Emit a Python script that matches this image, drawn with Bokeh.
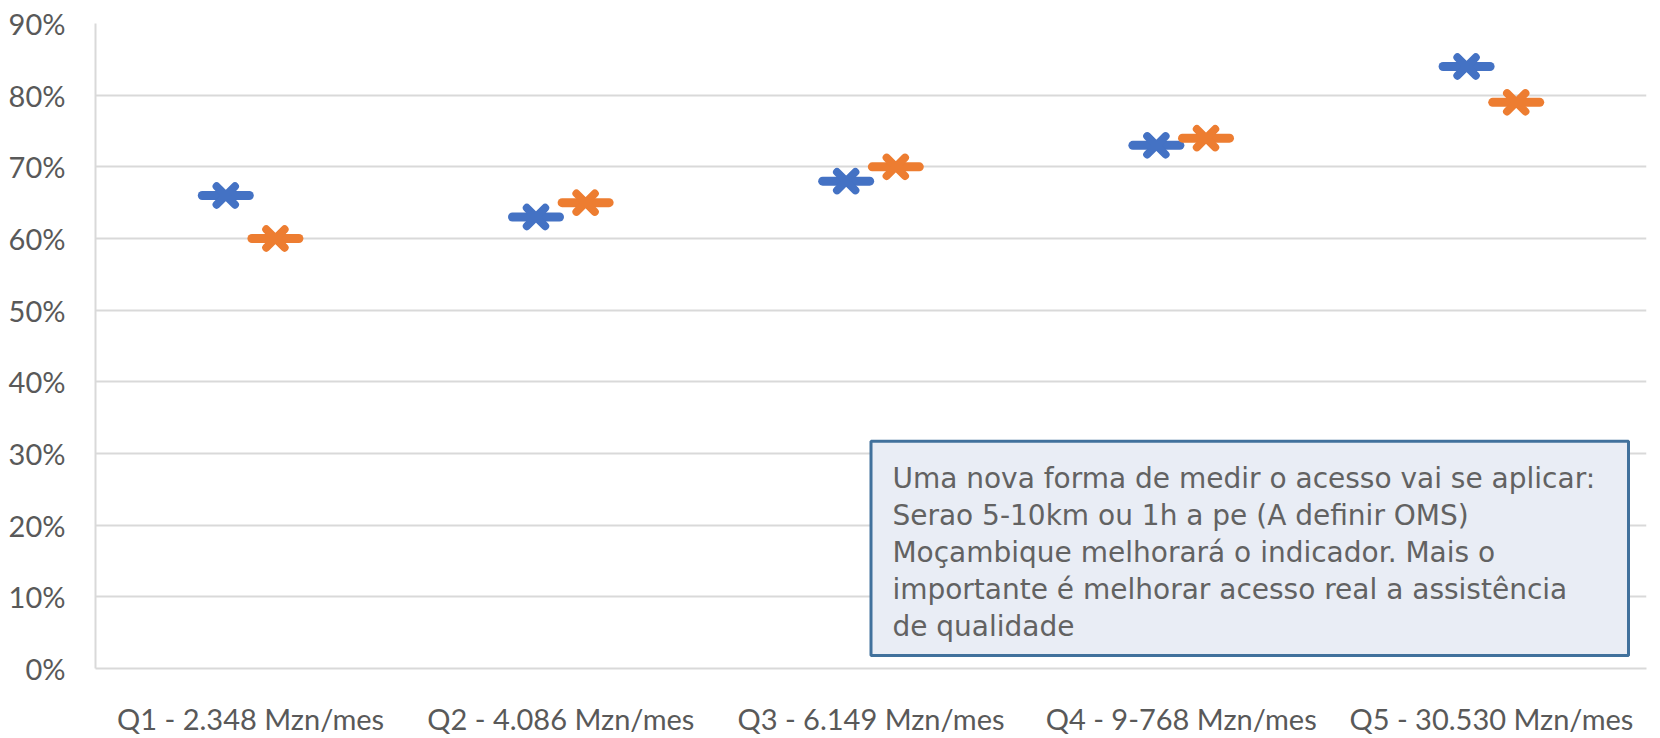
from bokeh.plotting import figure
from bokeh.models import FactorRange, Range1d, FixedTicker, NumeralTickFormatter, BoxAnnotation, ColumnDataSource
from bokeh.transform import dodge
from bokeh.core.properties import value
from bokeh.embed import file_html
from bokeh.resources import INLINE

categories = ["Q1 - 2.348 Mzn/mes", "Q2 - 4.086 Mzn/mes", "Q3 - 6.149 Mzn/mes",
              "Q4 - 9-768 Mzn/mes", "Q5 - 30.530 Mzn/mes"]
series_blue = [0.66, 0.63, 0.68, 0.73, 0.84]
series_orange = [0.60, 0.65, 0.70, 0.74, 0.79]
y_ticks = [0.0, 0.1, 0.2, 0.3, 0.4, 0.5, 0.6, 0.7, 0.8, 0.9]
note_text = ("Uma nova forma de medir o acesso vai se aplicar:\n"
             "Serao 5-10km ou 1h a pe (A definir OMS)\n"
             "Moçambique melhorará o indicador. Mais o\n"
             "importante é melhorar acesso real a assistência\n"
             "de qualidade")

BLUE = "#4472C4"
ORANGE = "#ED7D31"
GRID = "#D9D9D9"
LABEL = "#595959"

src = ColumnDataSource(data=dict(cat=categories, blue=series_blue, orange=series_orange))

p = figure(x_range=FactorRange(*categories), y_range=Range1d(0, 0.9),
           width=1660, height=738, output_backend="svg", toolbar_location=None,
           min_border_left=95, min_border_right=14, min_border_top=23, min_border_bottom=68)
p.outline_line_color = None
p.background_fill_color = "white"

p.ygrid.grid_line_color = GRID
p.ygrid.grid_line_width = 2
p.xgrid.grid_line_color = None

p.yaxis.ticker = FixedTicker(ticks=y_ticks)
p.yaxis.formatter = NumeralTickFormatter(format="0%")
for ax in (p.xaxis, p.yaxis):
    ax.axis_line_color = GRID
    ax.axis_line_width = 2
    ax.major_tick_line_color = None
    ax.minor_tick_line_color = None
    ax.major_label_text_font = "Lato"
    ax.major_label_text_font_size = "29px"
    ax.major_label_text_color = LABEL
p.yaxis.major_label_standoff = 24
p.xaxis.major_label_standoff = 26

for col, color, off in (("blue", BLUE, -0.08), ("orange", ORANGE, 0.08)):
    xd = dodge("cat", off, range=p.x_range)
    p.scatter(x=xd, y=col, source=src, marker="dash", size=47, line_color=color,
              line_width=9, line_cap="round")
    p.scatter(x=xd, y=col, source=src, marker="x", size=26, line_color=color,
              line_width=8, line_cap="round")

box = BoxAnnotation(left=2.5, right=4.942, bottom=0.018, top=0.317,
                    fill_color="#E9EDF5", fill_alpha=1.0,
                    line_color="#41719C", line_alpha=1.0, line_width=3,
                    level="underlay")
p.add_layout(box)

p.text(x=[2.569], y=[0.288], text=[note_text], text_font=value("DejaVu Sans"),
       text_font_size="28px", text_color="#626262", text_baseline="top",
       text_align="left", text_line_height=1.12)

open("out.html", "w").write(file_html(p, INLINE))
